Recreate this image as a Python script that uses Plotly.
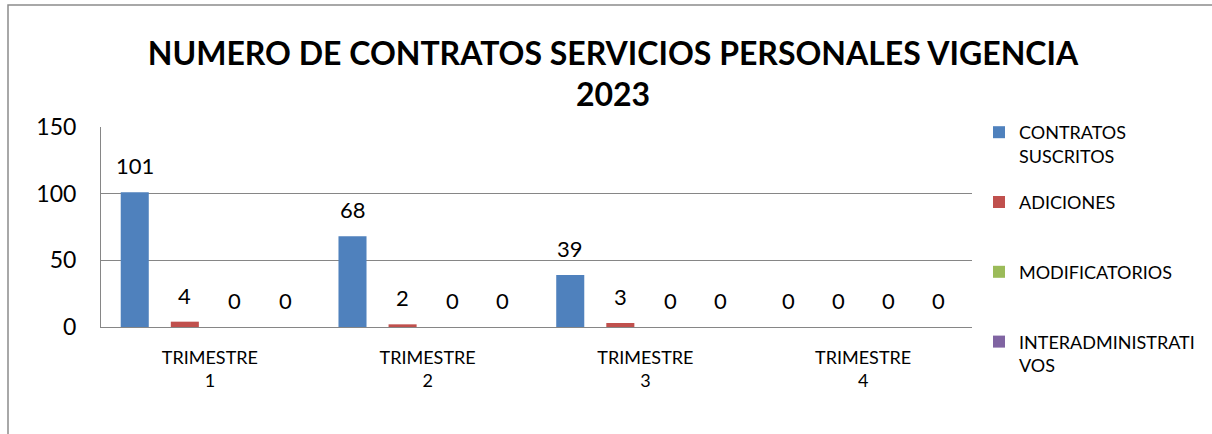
import plotly.graph_objects as go

categories = ["TRIMESTRE<br>1", "TRIMESTRE<br>2", "TRIMESTRE<br>3", "TRIMESTRE<br>4"]
series_names = ["CONTRATOS<br>SUSCRITOS", "ADICIONES<br> ", "MODIFICATORIOS<br> ", "INTERADMINISTRATI<br>VOS"]
contratos_suscritos = [101, 68, 39, 0]
adiciones = [4, 2, 3, 0]
modificatorios = [0, 0, 0, 0]
interadministrativos = [0, 0, 0, 0]
colors = ["#4F81BD", "#C0504D", "#9BBB59", "#8064A2"]
y_ticks = [0, 50, 100, 150]

series = [contratos_suscritos, adiciones, modificatorios, interadministrativos]

W, H = 1212, 434
ML, MR, MT, MB = 101, 240, 127, 107
plot_w = W - ML - MR
plot_h = H - MT - MB
bargap = 0.08
slot_px = plot_w / len(categories) * (1 - bargap) / len(series)

FONT = "Lato, sans-serif"

fig = go.Figure()
for i, (name, vals, col) in enumerate(zip(series_names, series, colors)):
    fig.add_trace(go.Bar(
        x=categories, y=vals, name=name, marker=dict(color=col, line=dict(width=0)),
        legendgroup=f"g{i}",
    ))

annotations = []
for i, vals in enumerate(series):
    off = (i - (len(series) - 1) / 2) * slot_px
    for c, v in zip(categories, vals):
        annotations.append(dict(
            x=c, y=v, xref="x", yref="y", text=str(v), showarrow=False,
            xshift=off, yshift=11, yanchor="bottom",
            font=dict(family=FONT, size=22, color="#000000"),
        ))

fig.update_layout(
    width=W, height=H,
    margin=dict(l=ML, r=MR, t=MT, b=MB, autoexpand=False),
    paper_bgcolor="white", plot_bgcolor="white",
    barmode="group", bargap=bargap, bargroupgap=0.44,
    title=dict(
        text="NUMERO DE CONTRATOS SERVICIOS PERSONALES VIGENCIA<br>2023",
        x=613 / W, xref="container", xanchor="center",
        y=1 - 64.5 / H, yref="container", yanchor="middle",
        font=dict(family=FONT, size=32, color="#000000", weight="bold"),
    ),
    legend=dict(
        x=(979 - ML) / plot_w, y=(H - MB - 114) / plot_h,
        xanchor="left", yanchor="top",
        font=dict(family=FONT, size=18, color="#000000"),
        traceorder="grouped", tracegroupgap=20, valign="top",
        bgcolor="rgba(0,0,0,0)", maxheight=400,
    ),
    annotations=annotations,
    xaxis=dict(
        showline=True, linecolor="#868686", linewidth=1,
        ticks="", showgrid=False,
        tickfont=dict(family=FONT, size=18, color="#000000"),
        ticklabelstandoff=14,
    ),
    yaxis=dict(
        range=[0, 150], tickvals=y_ticks, showgrid=True, gridcolor="#868686", gridwidth=1,
        showline=True, linecolor="#868686", linewidth=1, zeroline=False,
        ticks="", tickfont=dict(family=FONT, size=23, color="#000000"),
        ticklabelstandoff=19,
    ),
    shapes=[dict(
        type="rect", xref="paper", yref="paper",
        x0=(8 - ML) / plot_w, x1=(1240 - ML) / plot_w,
        y0=-1.0, y1=(H - MB - 5) / plot_h,
        line=dict(color="#8c8c8c", width=1.5), fillcolor="rgba(0,0,0,0)", layer="below",
    )],
)

fig.write_html("out.html", config={"displayModeBar": False},
               post_script="document.body.style.margin='0';")
